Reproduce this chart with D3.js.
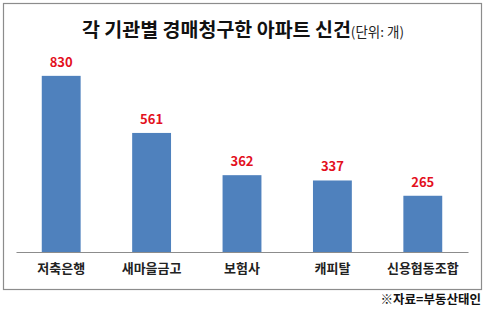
<!DOCTYPE html>
<html>
<head>
<meta charset="utf-8">
<script src="https://cdn.jsdelivr.net/npm/d3@7"></script>
<style>
  body { margin: 0; background: #fff; }
  text { font-family: "Noto Sans CJK KR", "Noto Sans", sans-serif; }
</style>
</head>
<body>
<script>
// data
var categories = ["저축은행", "새마을금고", "보험사", "캐피탈", "신용협동조합"];
var values = [830, 561, 362, 337, 265];
var title = "각 기관별 경매청구한 아파트 신건";
var unit = "(단위: 개)";
var source = "※자료=부동산태인";

var W = 486, H = 311;
var svg = d3.select("body").append("svg")
    .attr("width", W)
    .attr("height", H);

svg.append("rect")
    .attr("x", 3.5).attr("y", 3.5)
    .attr("width", 478).attr("height", 286)
    .attr("fill", "#fff")
    .attr("stroke", "#8c8c8c")
    .attr("stroke-width", 1.2);

var x = d3.scaleBand()
    .domain(categories)
    .range([16, 468])
    .paddingInner(0.57)
    .paddingOuter(0.285);

var y = d3.scaleLinear()
    .domain([0, 900])
    .range([252, 61]);

// title
var t = svg.append("text")
    .attr("x", 243)
    .attr("y", 37)
    .attr("text-anchor", "middle");
t.append("tspan")
    .attr("font-size", 19.5)
    .attr("font-weight", "bold")
    .attr("fill", "#111")
    .text(title);
t.append("tspan")
    .attr("font-size", 13.5)
    .attr("fill", "#222")
    .text(unit);

svg.selectAll(".bar")
    .data(values)
  .enter().append("rect")
    .attr("class", "bar")
    .attr("x", function(d, i){ return x(categories[i]); })
    .attr("y", function(d){ return y(d); })
    .attr("width", x.bandwidth())
    .attr("height", function(d){ return y(0) - y(d); })
    .attr("fill", "#4f81bd");

svg.selectAll(".val")
    .data(values)
  .enter().append("text")
    .attr("class", "val")
    .attr("x", function(d, i){ return x(categories[i]) + x.bandwidth() / 2; })
    .attr("y", function(d){ return y(d) - 9; })
    .attr("text-anchor", "middle")
    .attr("font-size", 13)
    .attr("font-weight", "bold")
    .attr("fill", "#e3101d")
    .text(function(d){ return d; });

// x axis
var axis = svg.append("g")
    .attr("transform", "translate(0," + y(0) + ")")
    .call(d3.axisBottom(x).tickSize(0).tickPadding(12));
axis.select(".domain")
    .attr("stroke", "#8c8c8c")
    .attr("stroke-width", 1.2);
axis.selectAll("text")
    .attr("font-family", "Noto Sans CJK KR, sans-serif")
    .attr("font-size", 13)
    .attr("font-weight", "bold")
    .attr("fill", "#222");

svg.append("text")
    .attr("x", 481)
    .attr("y", 304)
    .attr("text-anchor", "end")
    .attr("font-size", 12.5)
    .attr("font-weight", "bold")
    .attr("fill", "#111")
    .text(source);
</script>
</body>
</html>
